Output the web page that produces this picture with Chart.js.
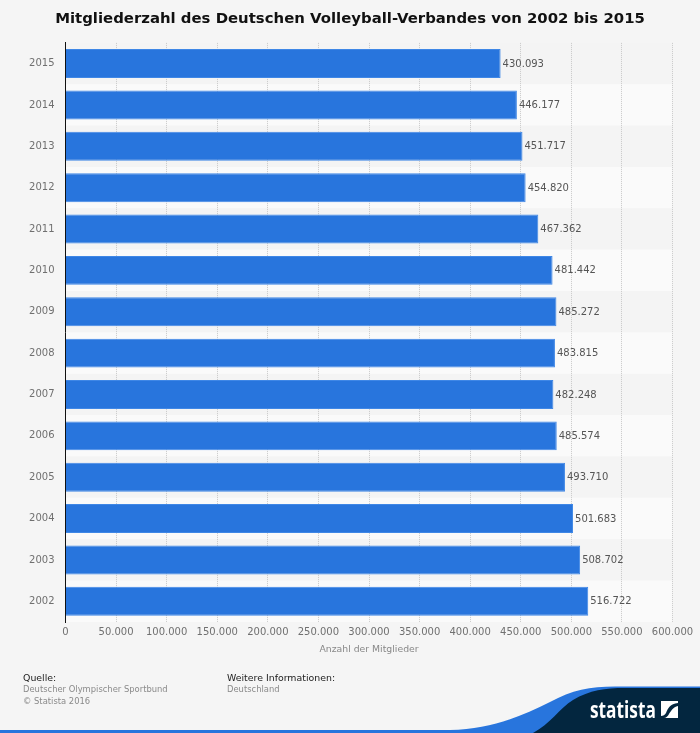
<!DOCTYPE html>
<html lang="de">
<head>
<meta charset="utf-8">
<script src="https://cdn.jsdelivr.net/npm/chart.js@4"></script>
<style>
html, body { margin: 0; padding: 0; background: #f5f5f5; }
#wrap { position: relative; width: 700px; height: 733px; overflow: hidden; font-family: "DejaVu Sans", sans-serif; }
#myChart { position: absolute; left: 0; top: 0; }
#art { position: absolute; left: 0; top: 0; }
.foot { position: absolute; font-size: 8.4px; line-height: 11.5px; color: #8a8a8a; white-space: nowrap; }
.foot b { display: block; font-weight: normal; font-size: 9.4px; line-height: 12px; color: #222; }
#brand { position: absolute; left: 590px; top: 694px; font: bold 24px "Open Sans", sans-serif; color: #fff; line-height: 30px; transform-origin: left top; transform: scaleX(0.72); }
</style>
</head>
<body>
<div id="wrap">
<svg id="art" width="700" height="733" viewBox="0 0 700 733">
    <rect x="0" y="730" width="700" height="3" fill="#2875dd"/>
    <path d="M450 730 C490 729 520 717 550 702 C572 690 590 686.5 615 686.5 L700 686.5 L700 733 L450 733 Z" fill="#2875dd"/>
    <path d="M533 733 C550 724 560 708 573 700 C590 690 605 688 625 688 L700 688 L700 733 Z" fill="#03263f"/>
    <path d="M661 701 H678 V703 C670 704 668 708 666 713 C665 715 663 716 661 716 Z M678 718 V706 C673 707 671 711 669 714 C668 716 666 718 664 718 Z" fill="#fff"/>
</svg>
<canvas id="myChart" width="700" height="733"></canvas>
<div class="foot" style="left:23px;top:672px"><b>Quelle:</b>Deutscher Olympischer Sportbund<br>© Statista 2016</div>
<div class="foot" style="left:227px;top:672px"><b>Weitere Informationen:</b>Deutschland</div>
<div id="brand">statista</div>
</div>
<script>
const years = ['2015', '2014', '2013', '2012', '2011', '2010', '2009', '2008', '2007', '2006', '2005', '2004', '2003', '2002'];
const members = [430093, 446177, 451717, 454820, 467362, 481442, 485272, 483815, 482248, 485574, 493710, 501683, 508702, 516722];
const titleText = 'Mitgliederzahl des Deutschen Volleyball-Verbandes von 2002 bis 2015';
const xTitle = 'Anzahl der Mitglieder';
const axisMax = 600000;
const axisStep = 50000;

const formatDe = v => String(v).replace(/\B(?=(\d{3})+$)/g, '.');

// alternating row bands behind the bars
const bandPlugin = {
    id: 'bands',
    beforeDraw(chart) {
        const {ctx, chartArea: a} = chart;
        const h = (a.bottom - a.top) / years.length;
        ctx.save();
        years.forEach((y, i) => {
            ctx.fillStyle = i % 2 ? '#fafafa' : '#f4f4f4';
            ctx.fillRect(a.left, a.top + i * h, a.right - a.left, h);
        });
        ctx.restore();
    }
};

// value next to each bar end
const valuePlugin = {
    id: 'values',
    afterDatasetsDraw(chart) {
        const {ctx} = chart;
        ctx.save();
        ctx.font = '10px "DejaVu Sans"';
        ctx.fillStyle = '#555';
        ctx.textBaseline = 'middle';
        chart.getDatasetMeta(0).data.forEach((bar, i) => {
            ctx.fillText(formatDe(members[i]), bar.x + 2, bar.y + 0.5);
        });
        ctx.restore();
    }
};

new Chart(document.getElementById('myChart'), {
    type: 'bar',
    data: {
        labels: years,
        datasets: [{
            data: members,
            backgroundColor: '#2875dd',
            borderColor: '#3f87e6',
            borderWidth: 1,
            barPercentage: 0.7,
            categoryPercentage: 1
        }]
    },
    options: {
        indexAxis: 'y',
        responsive: false,
        animation: false,
        devicePixelRatio: 1,
        layout: {padding: {top: 4, right: 27.5, bottom: 78, left: 27.5}},
        plugins: {
            legend: {display: false},
            tooltip: {enabled: false},
            title: {
                display: true,
                text: titleText,
                color: '#111',
                font: {family: '"DejaVu Sans"', size: 14.9, weight: 'bold'},
                padding: {top: 6, bottom: 15}
            }
        },
        scales: {
            x: {
                min: 0,
                max: axisMax,
                ticks: {
                    stepSize: axisStep,
                    color: '#707070',
                    font: {family: '"DejaVu Sans"', size: 10},
                    maxRotation: 0,
                    padding: 4,
                    callback: v => formatDe(v)
                },
                grid: {color: '#c8c8c8', lineWidth: 1, drawTicks: false, tickLength: 0},
                border: {display: false, dash: [1, 1]},
                title: {
                    display: true,
                    text: xTitle,
                    color: '#888',
                    font: {family: '"DejaVu Sans"', size: 9.3},
                    padding: 0
                },
                afterFit(scale) { scale.height = 33; }
            },
            y: {
                ticks: {
                    color: '#707070',
                    font: {family: '"DejaVu Sans"', size: 10},
                    padding: 11
                },
                grid: {display: false, drawTicks: false},
                border: {display: true, color: '#111', width: 1},
                afterFit(scale) { scale.width = 38; }
            }
        }
    },
    plugins: [bandPlugin, valuePlugin]
});
</script>
</body>
</html>
